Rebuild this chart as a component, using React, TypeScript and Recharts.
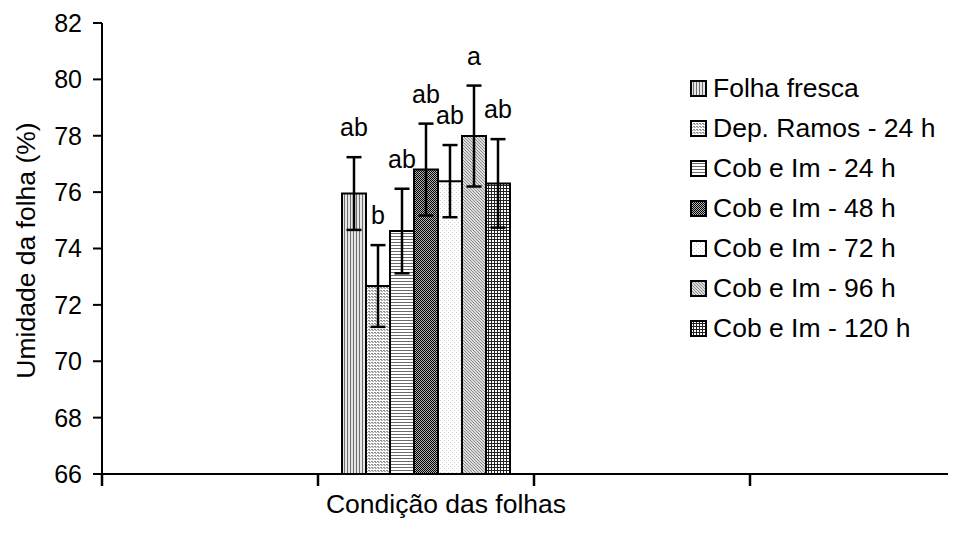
import React from 'react';
import { BarChart, Bar, XAxis, YAxis, ErrorBar, LabelList, Legend, Label } from 'recharts';

// ---------- data ----------
const categories = ['c1', 'c2', 'c3', 'c4'];
const groupIndex = 1; // category that holds the bars
const seriesNames = [
  'Folha fresca',
  'Dep. Ramos - 24 h',
  'Cob e Im - 24 h',
  'Cob e Im - 48 h',
  'Cob e Im - 72 h',
  'Cob e Im - 96 h',
  'Cob e Im - 120 h',
];
const means = [75.95, 72.67, 74.62, 76.8, 76.39, 77.99, 76.31];
const errs = [1.29, 1.45, 1.5, 1.63, 1.28, 1.79, 1.57];
const letters = ['ab', 'b', 'ab', 'ab', 'ab', 'a', 'ab'];
const yTicks = [66, 68, 70, 72, 74, 76, 78, 80, 82];
const yLabel = 'Umidade da folha (%)';
const xLabel = 'Condição das folhas';

const patternIds = ['pVert', 'pDots', 'pHoriz', 'pDark', 'pLight', 'pDiag', 'pGrid'];

const data = categories.map((c, ci) => {
  const row: any = { cat: c };
  seriesNames.forEach((_, si) => {
    row[`v${si}`] = ci === groupIndex ? means[si] : null;
    row[`e${si}`] = ci === groupIndex ? errs[si] : null;
    row[`l${si}`] = ci === groupIndex ? letters[si] : null;
  });
  return row;
});

// ---------- layout ----------
const FONT = '"Liberation Sans", Arial, Helvetica, sans-serif';
const CHART_W = 970;
const CHART_H = 537;
const MARGIN = { top: 15, right: 12, bottom: 0, left: 0 };
const Y_AXIS_W = 94;
const X_AXIS_H = 71;
const PLOT_W = CHART_W - MARGIN.left - MARGIN.right - Y_AXIS_W;
const BAND = PLOT_W / categories.length;
const Y_MIN = yTicks[0];

const BoundaryTick = (props: any) => {
  const { x, y, index } = props;
  const half = BAND / 2;
  return (
    <g>
      <line x1={x - half} x2={x - half} y1={y} y2={y + 12} stroke="#000" strokeWidth={2.5} />
      {index === categories.length - 1 && (
        <line x1={x + half} x2={x + half} y1={y} y2={y + 12} stroke="#000" strokeWidth={2.5} />
      )}
    </g>
  );
};

const makeLetterLabel = (si: number) => (props: any) => {
  const { x, y, width, height, value } = props;
  if (value == null || !height) return null;
  const v = means[si];
  const e = errs[si];
  const ppu = height / (v - Y_MIN);
  const top = y - e * ppu;
  return (
    <text x={x + width / 2} y={top - 21} textAnchor="middle" fontSize={25} fontFamily={FONT} fill="#000">
      {value}
    </text>
  );
};

const LegendContent = () => (
  <div style={{ fontFamily: FONT, fontSize: 26.5, color: '#000' }}>
    {seriesNames.map((n, i) => (
      <div key={n} style={{ display: 'flex', alignItems: 'center', height: 40, whiteSpace: 'nowrap' }}>
        <svg width={17} height={17} style={{ display: 'block' }}>
          <rect x={1} y={1} width={15} height={15} fill={`url(#${patternIds[i]})`} stroke="#000" strokeWidth={2} />
        </svg>
        <span style={{ marginLeft: 6 }}>{n}</span>
      </div>
    ))}
  </div>
);

const YLabelContent = (props: any) => {
  const { viewBox } = props;
  const cy = viewBox.y + viewBox.height / 2 + 2;
  const cx = 27;
  return (
    <text
      x={cx}
      y={cy}
      transform={`rotate(-90, ${cx}, ${cy})`}
      textAnchor="middle"
      fontSize={26.5}
      fontFamily={FONT}
      fill="#000"
    >
      {yLabel}
    </text>
  );
};

const XLabelContent = (props: any) => {
  const { viewBox } = props;
  return (
    <text x={438} y={viewBox.y + 39} textAnchor="middle" fontSize={26.5} fontFamily={FONT} fill="#000">
      {xLabel}
    </text>
  );
};

export default function App() {
  return (
    <div style={{ position: 'relative', width: 948, height: CHART_H, overflow: 'hidden' }}>
      <BarChart
        width={CHART_W}
        height={CHART_H}
        data={data}
        margin={MARGIN}
        barCategoryGap={24}
        barGap={0}
        style={{ fontFamily: FONT }}
      >
        <defs>
          <pattern id="pVert" width={3} height={3} patternUnits="userSpaceOnUse">
            <rect width={3} height={3} fill="#e6e6e6" />
            <rect width={1} height={3} fill="#6e6e6e" shapeRendering="crispEdges" />
          </pattern>
          <pattern id="pDots" width={3} height={3} patternUnits="userSpaceOnUse">
            <rect width={3} height={3} fill="#ffffff" />
            <rect x={0} y={0} width={2} height={1} fill="#8a8a8a" shapeRendering="crispEdges" />
            <rect x={1} y={1} width={2} height={1} fill="#b0b0b0" shapeRendering="crispEdges" />
          </pattern>
          <pattern id="pHoriz" width={3} height={3} patternUnits="userSpaceOnUse">
            <rect width={3} height={3} fill="#ffffff" />
            <rect width={3} height={1} fill="#6a6a6a" shapeRendering="crispEdges" />
          </pattern>
          <pattern id="pDark" width={2} height={2} patternUnits="userSpaceOnUse">
            <rect width={2} height={2} fill="#b4b4b4" />
            <rect x={0} y={0} width={1} height={1} fill="#000" shapeRendering="crispEdges" />
            <rect x={1} y={1} width={1} height={1} fill="#000" shapeRendering="crispEdges" />
          </pattern>
          <pattern id="pLight" width={4} height={4} patternUnits="userSpaceOnUse">
            <rect width={4} height={4} fill="#ffffff" />
            <rect x={0} y={0} width={1} height={1} fill="#d0d0d0" shapeRendering="crispEdges" />
            <rect x={2} y={2} width={1} height={1} fill="#d0d0d0" shapeRendering="crispEdges" />
          </pattern>
          <pattern id="pDiag" width={3} height={3} patternUnits="userSpaceOnUse">
            <rect width={3} height={3} fill="#dcdcdc" />
            <rect x={0} y={0} width={1} height={1} fill="#8c8c8c" shapeRendering="crispEdges" />
            <rect x={1} y={1} width={1} height={1} fill="#8c8c8c" shapeRendering="crispEdges" />
            <rect x={2} y={2} width={1} height={1} fill="#8c8c8c" shapeRendering="crispEdges" />
          </pattern>
          <pattern id="pGrid" width={3} height={3} patternUnits="userSpaceOnUse">
            <rect width={3} height={3} fill="#ffffff" />
            <rect width={3} height={1} fill="#222" shapeRendering="crispEdges" />
            <rect width={1} height={3} fill="#222" shapeRendering="crispEdges" />
          </pattern>
        </defs>
        <XAxis
          dataKey="cat"
          height={X_AXIS_H}
          interval={0}
          tickLine={false}
          tickSize={0}
          tickMargin={0}
          tick={<BoundaryTick />}
          axisLine={{ stroke: '#000', strokeWidth: 2 }}
          label={<Label content={<XLabelContent />} />}
        />
        <YAxis
          width={Y_AXIS_W}
          domain={[66, 82]}
          ticks={yTicks}
          interval={0}
          tickSize={9}
          tickMargin={11}
          tickLine={{ stroke: '#000', strokeWidth: 2 }}
          axisLine={{ stroke: '#000', strokeWidth: 2 }}
          tick={{ fill: '#000', fontSize: 25, fontFamily: FONT }}
          label={<Label content={<YLabelContent />} />}
        />
        <Legend
          layout="vertical"
          align="center"
          verticalAlign="middle"
          content={<LegendContent />}
          wrapperStyle={{ position: 'absolute', left: 682, top: 60, width: 270, height: 'auto' }}
        />
        {seriesNames.map((n, si) => (
          <Bar
            key={n}
            name={n}
            dataKey={`v${si}`}
            fill={`url(#${patternIds[si]})`}
            stroke="#000"
            strokeWidth={2}
            isAnimationActive={false}
          >
            <ErrorBar dataKey={`e${si}`} width={7.5} stroke="#000" strokeWidth={2.5} />
            <LabelList dataKey={`l${si}`} content={makeLetterLabel(si)} />
          </Bar>
        ))}
      </BarChart>
    </div>
  );
}
